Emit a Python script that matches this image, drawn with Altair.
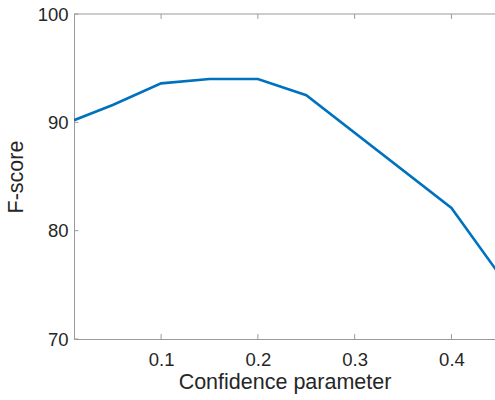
import altair as alt
import pandas as pd

conf = [0.01, 0.05, 0.10, 0.15, 0.20, 0.25, 0.40, 0.45]
fscore = [90.2, 91.6, 93.6, 94.0, 94.0, 92.5, 82.1, 75.9]
x_ticks = [0.1, 0.2, 0.3, 0.4]
y_ticks = [70, 80, 90, 100]
x_range = [0.01, 0.445]
y_range = [70, 100]

FONT = "Liberation Sans"
AX = "#9a9a9a"
TXT = "#262626"

df = pd.DataFrame({"conf": conf, "fscore": fscore})
xs = alt.Scale(domain=x_range, nice=False, zero=False)
ys = alt.Scale(domain=y_range, nice=False, zero=False)

line = alt.Chart(df).mark_line(color="#0072BD", strokeWidth=2.6, clip=True).encode(
    x=alt.X("conf:Q", scale=xs, axis=alt.Axis(
        values=x_ticks, tickSize=0, labelPadding=11, labelFontSize=18.5, labelFont=FONT,
        labelColor=TXT, domainColor=AX, grid=False, title="Confidence parameter",
        titleFontSize=21.5, titleFont=FONT, titleColor=TXT, titleFontWeight="normal",
        titlePadding=3, format=".1f")),
    y=alt.Y("fscore:Q", scale=ys, axis=alt.Axis(
        values=y_ticks, tickSize=0, labelPadding=6, labelFontSize=18.5, labelFont=FONT,
        labelColor=TXT, domainColor=AX, grid=False, title="F-score",
        titleFontSize=21.5, titleFont=FONT, titleColor=TXT, titleFontWeight="normal",
        titlePadding=10)),
)

tb = pd.DataFrame({"x": x_ticks})
bottom_ticks = alt.Chart(tb).mark_rule(color=AX, strokeWidth=1).encode(
    x=alt.X("x:Q", scale=xs), y=alt.datum(70, scale=ys), y2=alt.datum(70.45),
)
top_ticks = alt.Chart(tb).mark_rule(color=AX, strokeWidth=1).encode(
    x=alt.X("x:Q", scale=xs), y=alt.datum(100, scale=ys), y2=alt.datum(99.55),
)
top_border = alt.Chart(pd.DataFrame({"a": [0]})).mark_rule(color=AX, strokeWidth=1).encode(
    x=alt.datum(x_range[0], scale=xs), x2=alt.datum(x_range[1]), y=alt.datum(100, scale=ys),
)
ty = pd.DataFrame({"y": y_ticks})
left_ticks = alt.Chart(ty).mark_rule(color=AX, strokeWidth=1).encode(
    y=alt.Y("y:Q", scale=ys), x=alt.datum(0.01, scale=xs), x2=alt.datum(0.0145),
)

chart = alt.layer(line, bottom_ticks, top_ticks, top_border, left_ticks).properties(
    width=421, height=325,
    autosize=alt.AutoSizeParams(type="none"),
    padding={"left": 74, "top": 14, "right": 0, "bottom": 61},
    background="white",
).configure_view(stroke=None)

chart.save("out.html", embed_options={"renderer": "svg", "actions": False})
